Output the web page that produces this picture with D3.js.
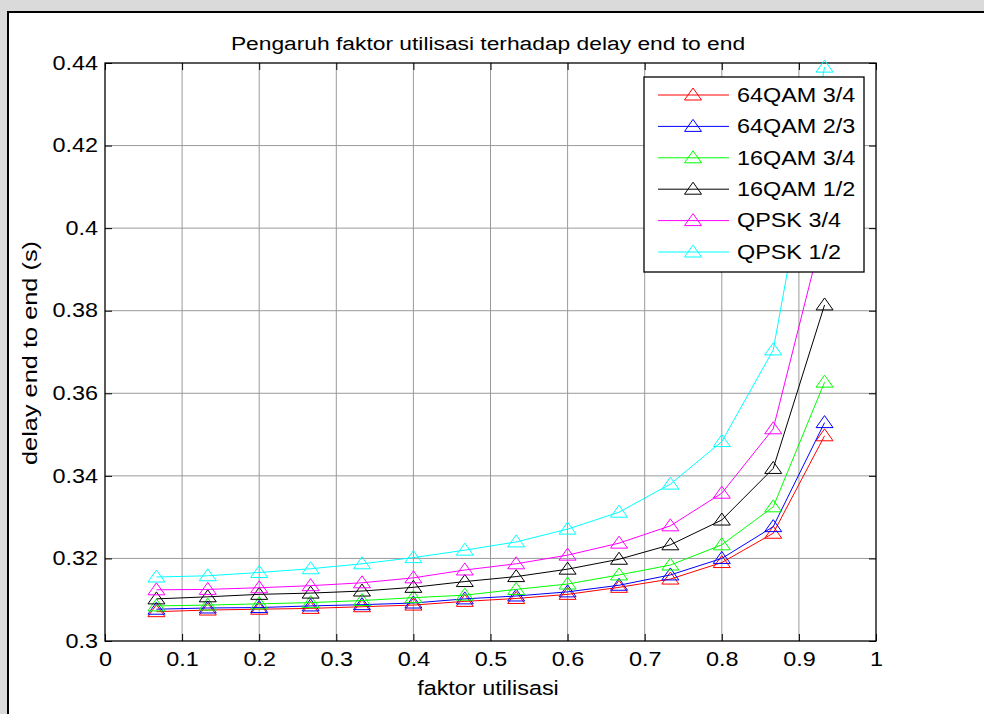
<!DOCTYPE html>
<html>
<head>
<meta charset="utf-8">
<script src="https://cdn.jsdelivr.net/npm/d3@7/dist/d3.min.js"></script>
<style>
  body { margin: 0; background: #dadada; }
  svg { display: block; }
  text { font-family: 'Liberation Sans', Arial, sans-serif; fill: #000; }
</style>
</head>
<body>
<svg width="984" height="714"></svg>
<script>
// faktor utilisasi (x)
const utilisasi = [0.0667, 0.1333, 0.2, 0.2667, 0.3333, 0.4, 0.4667, 0.5333, 0.6, 0.6667, 0.7333, 0.8, 0.8667, 0.9333]

// delay end to end (s)
const qam64_34 = [0.3071, 0.3075, 0.3077, 0.3079, 0.3083, 0.3087, 0.3096, 0.3103, 0.3113, 0.3130, 0.3150, 0.3190, 0.3261, 0.3497]
const qam64_23 = [0.3077, 0.3080, 0.3081, 0.3085, 0.3088, 0.3092, 0.3102, 0.3109, 0.3119, 0.3135, 0.3160, 0.3200, 0.3277, 0.3529]
const qam16_34 = [0.3085, 0.3087, 0.3090, 0.3093, 0.3098, 0.3105, 0.3111, 0.3125, 0.3138, 0.3160, 0.3184, 0.3233, 0.3325, 0.3627]
const qam16_12 = [0.3102, 0.3107, 0.3113, 0.3116, 0.3121, 0.3130, 0.3144, 0.3156, 0.3174, 0.3198, 0.3233, 0.3293, 0.3418, 0.3814]
const qpsk_34 = [0.3124, 0.3125, 0.3129, 0.3134, 0.3141, 0.3153, 0.3172, 0.3187, 0.3208, 0.3237, 0.3279, 0.3358, 0.3514, 0.4008]
const qpsk_12 = [0.3155, 0.3158, 0.3166, 0.3175, 0.3187, 0.3202, 0.3220, 0.3240, 0.3271, 0.3312, 0.3380, 0.3483, 0.3705, 0.4390]

const seriesNames = ['64QAM 3/4', '64QAM 2/3', '16QAM 3/4', '16QAM 1/2', 'QPSK 3/4', 'QPSK 1/2']
const seriesValues = [qam64_34, qam64_23, qam16_34, qam16_12, qpsk_34, qpsk_12]
const seriesColors = ['#ff0000', '#0000ff', '#00ff00', '#000000', '#ff00ff', '#00ffff']

const xTicks = [0, 0.1, 0.2, 0.3, 0.4, 0.5, 0.6, 0.7, 0.8, 0.9, 1]
const yTicks = [0.3, 0.32, 0.34, 0.36, 0.38, 0.4, 0.42, 0.44]

const plotLeft = 105
const plotRight = 876
const plotTop = 63
const plotBottom = 641
const stretch = 1.2

let svg = d3.select('svg')

// white figure area with black frame
svg.append('rect')
  .attr('x', 8).attr('y', 12)
  .attr('width', 1000).attr('height', 720)
  .attr('fill', '#fff')
  .attr('stroke', '#000')
  .attr('stroke-width', 2)

let x = d3.scaleLinear().domain([0, 1]).range([plotLeft, plotRight])
let y = d3.scaleLinear().domain([0.3, 0.44]).range([plotBottom, plotTop])

// grid
svg.append('g')
  .selectAll('line')
  .data(xTicks.slice(1, -1))
  .enter()
  .append('line')
  .attr('x1', d => x(d)).attr('x2', d => x(d))
  .attr('y1', plotTop).attr('y2', plotBottom)
  .attr('stroke', '#9a9a9a')

svg.append('g')
  .selectAll('line')
  .data(yTicks.slice(1, -1))
  .enter()
  .append('line')
  .attr('y1', d => y(d)).attr('y2', d => y(d))
  .attr('x1', plotLeft).attr('x2', plotRight)
  .attr('stroke', '#9a9a9a')

// axes, ticks pointing inward
let fmt = d => String(+d.toFixed(2))

let xAxis = svg.append('g')
  .attr('transform', `translate(0, ${plotBottom})`)
  .call(d3.axisBottom(x).tickValues(xTicks).tickFormat(fmt).tickSizeInner(-7).tickSizeOuter(0))
xAxis.selectAll('text')
  .attr('y', 25).attr('dy', null)
  .style('font-size', '19.5px')
  .attr('transform', `scale(${stretch},1)`)

svg.append('g')
  .attr('transform', `translate(0, ${plotTop})`)
  .call(d3.axisTop(x).tickValues(xTicks).tickFormat('').tickSizeInner(-7).tickSizeOuter(0))

let yAxis = svg.append('g')
  .attr('transform', `translate(${plotLeft}, 0)`)
  .call(d3.axisLeft(y).tickValues(yTicks).tickFormat(fmt).tickSizeInner(-7).tickSizeOuter(0))
yAxis.selectAll('text')
  .attr('x', -7 / stretch)
  .style('font-size', '19.5px')
  .attr('transform', `scale(${stretch},1)`)

svg.append('g')
  .attr('transform', `translate(${plotRight}, 0)`)
  .call(d3.axisRight(y).tickValues(yTicks).tickFormat('').tickSizeInner(-7).tickSizeOuter(0))

svg.selectAll('.domain').remove()
svg.selectAll('.tick line').attr('stroke', '#000')

svg.append('rect')
  .attr('x', plotLeft).attr('y', plotTop)
  .attr('width', plotRight - plotLeft).attr('height', plotBottom - plotTop)
  .attr('fill', 'none')
  .attr('stroke', '#000')
  .attr('stroke-width', 1.3)

// series
let line = d3.line()
  .x((d, i) => x(utilisasi[i]))
  .y(d => y(d))

let tri = 'M0,-7L8.5,5L-8.5,5Z'

seriesValues.forEach((vals, k) => {
  let g = svg.append('g')
  g.append('path')
    .attr('d', line(vals))
    .attr('fill', 'none')
    .attr('stroke', seriesColors[k])
    .attr('stroke-width', 1)
  g.selectAll('path.m')
    .data(vals)
    .enter()
    .append('path')
    .attr('class', 'm')
    .attr('d', tri)
    .attr('transform', (d, i) => `translate(${x(utilisasi[i])}, ${y(d)})`)
    .attr('fill', 'none')
    .attr('stroke', seriesColors[k])
    .attr('stroke-width', 1)
})

// legend
let lg = svg.append('g').attr('transform', 'translate(644, 77)')
lg.append('rect')
  .attr('width', 220).attr('height', 195)
  .attr('fill', '#fff')
  .attr('stroke', '#000')
  .attr('stroke-width', 1.3)

let rows = lg.selectAll('g')
  .data(seriesNames)
  .enter()
  .append('g')
  .attr('transform', (d, i) => `translate(0, ${18 + i * 31.4})`)

rows.append('line')
  .attr('x1', 14).attr('x2', 85)
  .attr('stroke', (d, i) => seriesColors[i])
rows.append('path')
  .attr('d', tri)
  .attr('transform', 'translate(49, 0)')
  .attr('fill', 'none')
  .attr('stroke', (d, i) => seriesColors[i])
rows.append('text')
  .text(d => d)
  .attr('x', 93 / stretch)
  .attr('dy', '0.35em')
  .style('font-size', '19.5px')
  .attr('transform', `scale(${stretch},1)`)

// titles
svg.append('text')
  .text('Pengaruh faktor utilisasi terhadap delay end to end')
  .attr('text-anchor', 'middle')
  .attr('x', 488 / stretch).attr('y', 50)
  .style('font-size', '19px')
  .attr('transform', `scale(${stretch},1)`)

svg.append('text')
  .text('faktor utilisasi')
  .attr('text-anchor', 'middle')
  .attr('x', 488 / stretch).attr('y', 695)
  .style('font-size', '19.5px')
  .attr('transform', `scale(${stretch},1)`)

svg.append('text')
  .text('delay end to end (s)')
  .attr('text-anchor', 'middle')
  .style('font-size', '19.5px')
  .attr('transform', `translate(37, 353) rotate(-90) scale(1.3,1)`)
</script>
</body>
</html>
